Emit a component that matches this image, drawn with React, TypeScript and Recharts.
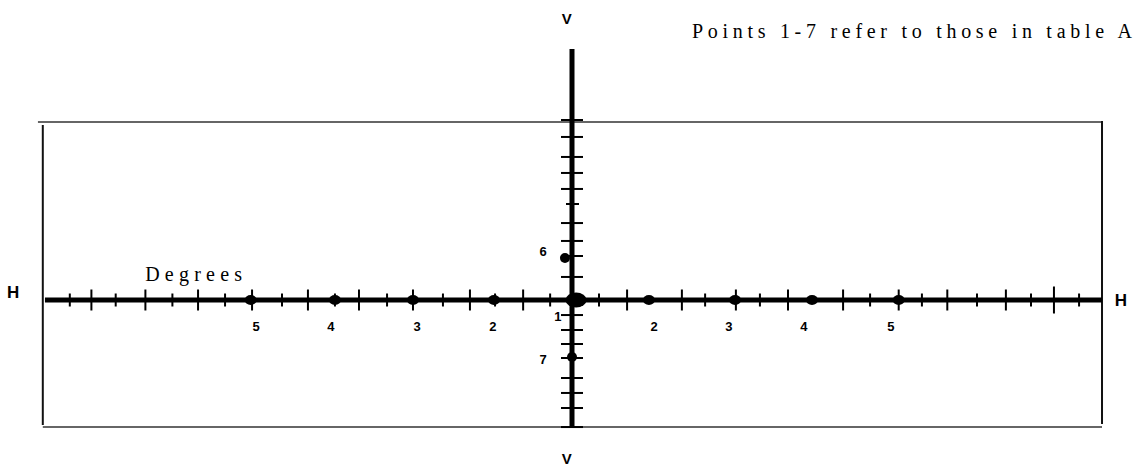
import React from 'react';
import { ScatterChart, Scatter, XAxis, YAxis, ReferenceLine } from 'recharts';

// Horizontal (H) meridian tick marks, in tick units from the V line
const hLongTicks = [-17.8, -15.8, -13.85, -11.85, -9.78, -7.89, -5.89, -3.78, -1.81, 2.04, 4.07, 6.07, 8.0, 10.04, 12.1, 13.9, 16.07];
const hShortTicks = [-18.6, -16.9, -14.8, -12.85, -10.74, -8.78, -6.85, -4.78, -2.85, -0.81, 1.0, 4.93, 6.96, 11.04, 12.96, 15.0, 17.0, 18.78];
const hTallTicks = [17.85];
// Vertical (V) meridian tick marks
const vTicks = [11.25, 10.19, 8.94, 7.94, 6.94, 4.81, 3.69, 2.75, 1.44, -0.94, -1.875, -2.75, -3.625, -4.875, -5.81, -6.75, -7.94];
const vShortTicks = [6.0];

// Measured points 1-7
const centerPoint = [{ name: '1', x: 0.15, y: 0 }];
const hPoints = [
  { name: '2', x: -2.89, y: 0 },
  { name: '3', x: -5.89, y: 0 },
  { name: '4', x: -8.78, y: 0 },
  { name: '5', x: -11.9, y: 0 },
  { name: '2', x: 2.85, y: 0 },
  { name: '3', x: 6.04, y: 0 },
  { name: '4', x: 8.89, y: 0 },
  { name: '5', x: 12.1, y: 0 },
];
const vPoints = [
  { name: '6', x: -0.26, y: 2.625 },
  { name: '7', x: 0, y: -3.56 },
];

// Point number labels
const pointLabels = [
  { text: '5', x: -11.7, y: -1.625 },
  { text: '4', x: -8.93, y: -1.625 },
  { text: '3', x: -5.74, y: -1.625 },
  { text: '2', x: -2.93, y: -1.625 },
  { text: '2', x: 3.04, y: -1.625 },
  { text: '3', x: 5.81, y: -1.625 },
  { text: '4', x: 8.59, y: -1.625 },
  { text: '5', x: 11.81, y: -1.625 },
  { text: '6', x: -1.07, y: 3.06 },
  { text: '1', x: -0.52, y: -1.0 },
  { text: '7', x: -1.07, y: -3.69 },
];
// Meridian names
const vLabels = [
  { text: 'V', x: -0.19, y: 17.6 },
  { text: 'V', x: -0.19, y: -9.875 },
];
const hLabels = [
  { text: 'H', x: -20.7, y: 0.5 },
  { text: 'H', x: 20.33, y: 0 },
];
const notes = [
  { text: 'Points 1-7 refer to those in table A', x: 4.44, y: 16.375, len: 440, size: 20 },
  { text: 'Degrees', x: -15.81, y: 1.19, len: 97, size: 20 },
];

// Frame and meridian extents
const frameTopY = 11.125;
const frameBottomY = -7.94;
const frameLeftX = -19.6;
const frameRightX = 19.63;
const hLineExtent = [-19.52, 19.63];
const vLineExtent = [-8.0, 15.69];

const W = 1143;
const H = 466;

const hTick = (half: number) => (props: any) => {
  const { cx, cy } = props;
  return <line x1={cx} x2={cx} y1={cy - half} y2={cy + half} stroke="#000" strokeWidth={2} />;
};
const vTick = (left: number, right: number) => (props: any) => {
  const { cx, cy } = props;
  return <line x1={cx - left} x2={cx + right} y1={cy} y2={cy} stroke="#000" strokeWidth={2} />;
};
const dot = (rx: number, ry: number) => (props: any) => {
  const { cx, cy } = props;
  return <ellipse cx={cx} cy={cy} rx={rx} ry={ry} fill="#000" />;
};
const numText = (size: number) => (props: any) => {
  const { cx, cy, payload } = props;
  return (
    <text x={cx} y={cy} textAnchor="middle" dominantBaseline="central" fontFamily="Arial, 'Liberation Sans', sans-serif" fontWeight="bold" fontSize={size} fill="#000">
      {payload.text}
    </text>
  );
};
const noteText = (props: any) => {
  const { cx, cy, payload } = props;
  return (
    <text x={cx} y={cy} textAnchor="start" fontFamily="'Times New Roman', 'Liberation Serif', serif" fontSize={payload.size} textLength={payload.len} lengthAdjust="spacing" fill="#000">
      {payload.text}
    </text>
  );
};

export default function App() {
  return (
    <div style={{ position: 'absolute', left: 0, top: 0, background: '#fff' }}>
      <ScatterChart width={W} height={H} margin={{ top: 12, right: 4, bottom: 6, left: 5 }}>
        <XAxis type="number" dataKey="x" domain={[-21, 21]} hide />
        <YAxis type="number" dataKey="y" domain={[-10, 18]} hide />
        {/* frame */}
        <ReferenceLine segment={[{ x: -19.78, y: frameTopY }, { x: frameRightX, y: frameTopY }]} stroke="#333" strokeWidth={1.5} ifOverflow="visible" />
        <ReferenceLine segment={[{ x: frameLeftX, y: 10.94 }, { x: frameLeftX, y: -7.81 }]} stroke="#111" strokeWidth={2} ifOverflow="visible" />
        <ReferenceLine segment={[{ x: frameLeftX, y: frameBottomY }, { x: frameRightX, y: frameBottomY }]} stroke="#333" strokeWidth={1.5} ifOverflow="visible" />
        <ReferenceLine segment={[{ x: frameRightX, y: 11.19 }, { x: frameRightX, y: -7.75 }]} stroke="#111" strokeWidth={2} ifOverflow="visible" />
        {/* meridians */}
        <ReferenceLine segment={[{ x: hLineExtent[0], y: 0 }, { x: hLineExtent[1], y: 0 }]} stroke="#000" strokeWidth={5} ifOverflow="visible" />
        <ReferenceLine segment={[{ x: 0, y: vLineExtent[0] }, { x: 0, y: vLineExtent[1] }]} stroke="#000" strokeWidth={5} ifOverflow="visible" />
        {/* ticks */}
        <Scatter data={hLongTicks.map((x) => ({ x, y: 0 }))} shape={hTick(10.5)} isAnimationActive={false} />
        <Scatter data={hShortTicks.map((x) => ({ x, y: 0 }))} shape={hTick(6.5)} isAnimationActive={false} />
        <Scatter data={hTallTicks.map((x) => ({ x, y: 0 }))} shape={hTick(13.5)} isAnimationActive={false} />
        <Scatter data={vTicks.map((y) => ({ x: 0, y }))} shape={vTick(11, 11)} isAnimationActive={false} />
        <Scatter data={vShortTicks.map((y) => ({ x: 0, y }))} shape={vTick(6, 7)} isAnimationActive={false} />
        {/* points */}
        <Scatter data={hPoints} shape={dot(6, 5)} isAnimationActive={false} />
        <Scatter data={vPoints} shape={dot(5, 5)} isAnimationActive={false} />
        <Scatter data={centerPoint} shape={dot(10.5, 7.5)} isAnimationActive={false} />
        {/* labels */}
        <Scatter data={pointLabels} shape={numText(13)} isAnimationActive={false} />
        <Scatter data={vLabels} shape={numText(15)} isAnimationActive={false} />
        <Scatter data={hLabels} shape={numText(17)} isAnimationActive={false} />
        <Scatter data={notes} shape={noteText} isAnimationActive={false} />
      </ScatterChart>
    </div>
  );
}
